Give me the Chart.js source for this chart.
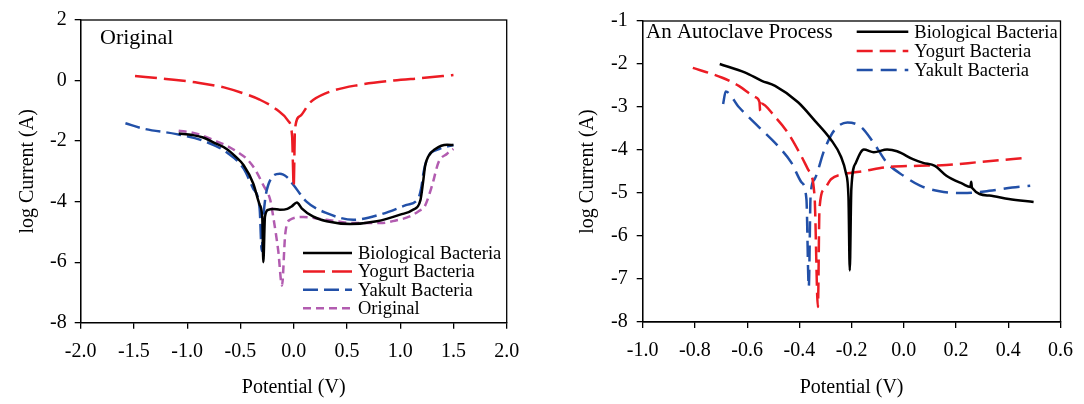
<!DOCTYPE html>
<html>
<head>
<meta charset="utf-8">
<script src="https://cdn.jsdelivr.net/npm/chart.js@4.4.1/dist/chart.umd.min.js"></script>
<style>
  html, body { margin: 0; padding: 0; background: #fff; }
  .panel { position: absolute; top: 0; width: 542px; height: 404px; }
</style>
</head>
<body>
<div class="panel" style="left:0"><canvas id="leftChart" width="542" height="404"></canvas></div>
<div class="panel" style="left:542px"><canvas id="rightChart" width="542" height="404"></canvas></div>
<script>
// === DATA: left panel (Original) ===
const leftXTicks = [-2.0, -1.5, -1.0, -0.5, 0.0, 0.5, 1.0, 1.5, 2.0];
const leftYTicks = [2, 0, -2, -4, -6, -8];

const leftBioX = [-1.08, -0.95, -0.85, -0.75, -0.63, -0.55, -0.47, -0.38, -0.32, -0.295, -0.285, -0.27, -0.24, -0.19, -0.13, -0.06, -0.02, 0.03, 0.075, 0.18, 0.31, 0.53, 0.78, 1.0, 1.12, 1.19, 1.215, 1.235, 1.265, 1.33, 1.44, 1.5];
const leftBioY = [-1.75, -1.8, -1.88, -2.05, -2.26, -2.5, -2.8, -3.4, -4.1, -4.54, -6.0, -4.5, -4.27, -4.24, -4.27, -4.24, -4.16, -4.03, -4.22, -4.49, -4.65, -4.74, -4.65, -4.43, -4.27, -3.95, -3.35, -2.8, -2.5, -2.26, -2.12, -2.13];

const leftYogX = [-1.49, -1.2, -0.9, -0.63, -0.45, -0.32, -0.16, -0.05, -0.015, 0.0, 0.012, 0.06, 0.15, 0.31, 0.62, 0.94, 1.2, 1.5];
const leftYogY = [0.15, 0.05, -0.07, -0.25, -0.45, -0.63, -0.96, -1.34, -1.83, -3.5, -1.6, -1.17, -0.74, -0.41, -0.14, 0.0, 0.08, 0.18];

const leftYakX = [-1.58, -1.41, -1.1, -0.85, -0.63, -0.47, -0.38, -0.32, -0.30, -0.285, -0.24, -0.13, -0.06, 0.0, 0.12, 0.31, 0.56, 0.81, 1.06, 1.17, 1.2, 1.22, 1.26, 1.37, 1.5];
const leftYakY = [-1.41, -1.59, -1.77, -1.99, -2.37, -2.91, -3.57, -4.22, -5.63, -4.55, -3.46, -3.08, -3.2, -3.46, -4.0, -4.38, -4.6, -4.43, -4.11, -3.89, -3.5, -3.02, -2.53, -2.26, -2.13];

const leftOrigX = [-1.08, -0.95, -0.85, -0.75, -0.63, -0.52, -0.44, -0.36, -0.285, -0.22, -0.19, -0.145, -0.11, -0.08, -0.035, 0.09, 0.31, 0.56, 0.81, 0.95, 1.09, 1.18, 1.23, 1.3, 1.36, 1.44, 1.5];
const leftOrigY = [-1.66, -1.72, -1.83, -1.97, -2.15, -2.38, -2.59, -2.95, -3.46, -3.95, -4.55, -5.63, -6.77, -5.09, -4.6, -4.51, -4.6, -4.71, -4.71, -4.63, -4.49, -4.3, -4.16, -3.46, -2.7, -2.42, -2.26];

// === DATA: right panel (An Autoclave Process) ===
const rightXTicks = [-1.0, -0.8, -0.6, -0.4, -0.2, 0.0, 0.2, 0.4, 0.6];
const rightYTicks = [-1, -2, -3, -4, -5, -6, -7, -8];

const rightBioX = [-0.705, -0.607, -0.544, -0.493, -0.405, -0.342, -0.279, -0.241, -0.222, -0.212, -0.207, -0.201, -0.184, -0.153, -0.115, -0.064, -0.026, 0.037, 0.074, 0.119, 0.163, 0.226, 0.255, 0.258, 0.261, 0.327, 0.402, 0.497];
const rightBioY = [-2.0, -2.2, -2.39, -2.51, -2.89, -3.31, -3.76, -4.15, -4.53, -5.1, -6.8, -4.91, -4.3, -3.99, -4.05, -3.99, -4.03, -4.22, -4.3, -4.37, -4.6, -4.79, -4.86, -4.74, -4.88, -5.06, -5.14, -5.21];

const rightYogX = [-0.808, -0.695, -0.632, -0.569, -0.553, -0.55, -0.547, -0.493, -0.443, -0.392, -0.367, -0.342, -0.329, -0.323, -0.304, -0.279, -0.228, -0.153, -0.064, 0.037, 0.163, 0.289, 0.472];
const rightYogY = [-2.09, -2.32, -2.51, -2.77, -2.88, -3.09, -2.92, -3.23, -3.61, -4.15, -4.45, -5.06, -7.65, -5.36, -4.91, -4.68, -4.56, -4.49, -4.4, -4.37, -4.35, -4.28, -4.18];

const rightYakX = [-0.692, -0.682, -0.632, -0.556, -0.48, -0.43, -0.392, -0.373, -0.364, -0.357, -0.342, -0.304, -0.266, -0.216, -0.165, -0.115, -0.064, -0.001, 0.062, 0.137, 0.226, 0.327, 0.415, 0.484];
const rightYakY = [-2.93, -2.64, -3.0, -3.46, -3.92, -4.3, -4.75, -5.14, -7.19, -5.06, -4.68, -3.99, -3.54, -3.36, -3.46, -3.84, -4.3, -4.6, -4.83, -4.96, -5.0, -4.95, -4.87, -4.83];

// === STYLE ===
const FONT = '"Liberation Serif", "Times New Roman", serif';
Chart.defaults.font.family = FONT;
Chart.defaults.color = "#000";

const BLACK = "#000000", RED = "#ec1c24", BLUE = "#2250a8", PURPLE = "#b25cb0";

const pts = (xs, ys) => xs.map((x, i) => ({ x, y: ys[i] }));

function line(label, xs, ys, color, dash) {
  return {
    label, data: pts(xs, ys),
    borderColor: color, borderWidth: 2.5, borderDash: dash,
    pointRadius: 0, showLine: true, fill: false,
    cubicInterpolationMode: "monotone"
  };
}

// frame box, caption and line legend drawn inside the plot
const framePlugin = {
  id: "frame",
  afterDraw(chart, args, o) {
    const { ctx, chartArea: a } = chart;
    ctx.save();
    ctx.strokeStyle = "#000"; ctx.lineWidth = 1.3; ctx.setLineDash([]);
    ctx.strokeRect(a.left, a.top, a.right - a.left, a.bottom - a.top);

    ctx.fillStyle = "#000";
    ctx.textBaseline = "alphabetic";
    ctx.font = o.captionSize + "px " + FONT;
    ctx.fillText(o.caption, o.captionX, o.captionY);

    ctx.font = "18.5px " + FONT;
    ctx.textBaseline = "middle";
    chart.data.datasets.forEach((ds, i) => {
      const y = o.legendY + i * o.legendGap;
      ctx.beginPath();
      ctx.strokeStyle = ds.borderColor; ctx.lineWidth = 2.5;
      ctx.setLineDash(ds.borderDash || []);
      ctx.moveTo(o.legendX, y); ctx.lineTo(o.legendX + o.legendLen, y);
      ctx.stroke();
      ctx.fillText(ds.label, o.legendX + o.legendLen + 6, y + 1);
    });
    ctx.restore();
  }
};

function makeChart(id, datasets, s) {
  return new Chart(document.getElementById(id), {
    type: "scatter",
    data: { datasets },
    plugins: [framePlugin],
    options: {
      responsive: false, animation: false,
      layout: { padding: { left: 0, top: s.top, right: s.right, bottom: 0 } },
      plugins: { legend: { display: false }, tooltip: { enabled: false }, frame: s.frame },
      scales: {
        x: {
          type: "linear", min: s.xTicks[0], max: s.xTicks[s.xTicks.length - 1],
          afterBuildTicks: sc => { sc.ticks = s.xTicks.map(v => ({ value: v })); },
          afterFit: sc => { sc.height = s.xHeight; },
          ticks: { font: { size: 20 }, padding: 11, maxRotation: 0, autoSkip: false, callback: v => Number(v).toFixed(1) },
          grid: { drawOnChartArea: false, drawTicks: true, tickLength: 6, color: "#000", lineWidth: 1.3 },
          border: { color: "#000", width: 1.3 },
          title: { display: true, text: "Potential (V)", font: { size: 20 }, padding: { top: 0, bottom: 4 } }
        },
        y: {
          type: "linear", min: Math.min(...s.yTicks), max: Math.max(...s.yTicks),
          afterBuildTicks: sc => { sc.ticks = s.yTicks.slice().reverse().map(v => ({ value: v })); },
          afterFit: sc => { sc.width = s.yWidth; },
          ticks: { font: { size: 20 }, padding: s.yPad, autoSkip: false, callback: v => String(v) },
          grid: { drawOnChartArea: false, drawTicks: true, tickLength: 6, color: "#000", lineWidth: 1.3 },
          border: { color: "#000", width: 1.3 },
          title: { display: true, text: "log Current (A)", font: { size: 20 }, padding: { top: s.yTitlePad, bottom: 0 } }
        }
      }
    }
  });
}

makeChart("leftChart", [
  line("Biological Bacteria", leftBioX, leftBioY, BLACK, []),
  line("Yogurt Bacteria", leftYogX, leftYogY, RED, [22, 7]),
  line("Yakult Bacteria", leftYakX, leftYakY, BLUE, [15, 6]),
  line("Original", leftOrigX, leftOrigY, PURPLE, [8, 5])
], {
  xTicks: leftXTicks, yTicks: leftYTicks,
  top: 16, right: 35.3, xHeight: 81.3, yWidth: 80.7, yPad: 8, yTitlePad: 16,
  frame: { caption: "Original", captionSize: 22, captionX: 100, captionY: 44,
           legendX: 303, legendLen: 49, legendY: 253, legendGap: 18.4 }
});

makeChart("rightChart", [
  line("Biological Bacteria", rightBioX, rightBioY, BLACK, []),
  line("Yogurt Bacteria", rightYogX, rightYogY, RED, [16, 7]),
  line("Yakult Bacteria", rightYakX, rightYakY, BLUE, [16, 8])
], {
  xTicks: rightXTicks, yTicks: rightYTicks,
  top: 15.7, right: 18.3, xHeight: 82, yWidth: 100.7, yPad: 9, yTitlePad: 34,
  frame: { caption: "An Autoclave Process", captionSize: 21, captionX: 104, captionY: 38,
           legendX: 314.7, legendLen: 51.6, legendY: 31.7, legendGap: 19.2 }
});
</script>
</body>
</html>
